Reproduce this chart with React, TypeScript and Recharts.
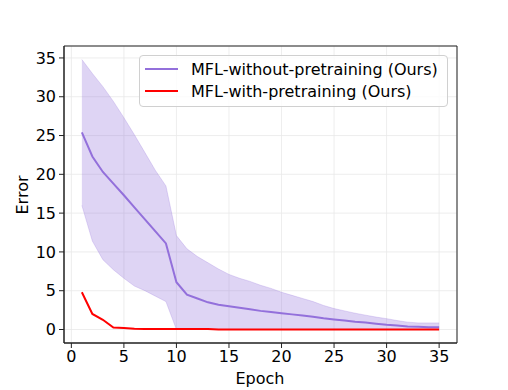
import React from 'react';
import { ComposedChart, Area, Line, XAxis, YAxis, CartesianGrid, ReferenceArea } from 'recharts';

const epochs = [1,2,3,4,5,6,7,8,9,10,11,12,13,14,15,16,17,18,19,20,21,22,23,24,25,26,27,28,29,30,31,32,33,34,35];
const meanNoPre = [25.4,22.3,20.3,18.8,17.3,15.75,14.2,12.65,11.1,6.1,4.5,4.0,3.5,3.2,3.0,2.8,2.6,2.4,2.25,2.1,1.95,1.8,1.65,1.45,1.3,1.15,1.0,0.9,0.75,0.6,0.5,0.4,0.35,0.3,0.3];
const upperNoPre = [34.8,33.0,31.3,29.4,27.3,25.1,22.8,20.5,18.5,12.1,10.4,9.4,8.6,7.8,7.1,6.6,6.2,5.7,5.3,4.8,4.4,4.0,3.6,3.1,2.7,2.4,2.1,1.85,1.6,1.4,1.15,0.95,0.85,0.85,0.85];
const lowerNoPre = [16.0,11.4,9.0,7.7,6.6,5.6,5.0,4.3,3.6,0,0,0,0,0,0,0,0,0,0,0,0,0,0,0,0,0,0,0,0,0,0,0,0,0,0];
const withPre = [4.8,2.0,1.25,0.25,0.2,0.1,0.05,0.05,0.05,0.05,0.05,0.05,0.05,0,0,0,0,0,0,0,0,0,0,0,0,0,0,0,0,0,0,0,0,0,0];
const xTicks = [0,5,10,15,20,25,30,35];
const yTicks = [0,5,10,15,20,25,30,35];
const seriesNames = ['MFL-without-pretraining (Ours)', 'MFL-with-pretraining (Ours)'];

const data = epochs.map((e, i) => ({
  epoch: e,
  mean: meanNoPre[i],
  band: [lowerNoPre[i], upperNoPre[i]],
  withPre: withPre[i],
}));

const FONT = '"DejaVu Sans", sans-serif';
const PURPLE = '#9370DB';
const RED = '#ff0000';

export default function App() {
  return (
    <div style={{ position: 'absolute', left: 0, top: 0, width: 508, height: 390, background: '#fff', fontFamily: FONT }}>
      <ComposedChart width={508} height={390} data={data} margin={{ top: 46, right: 51, bottom: 17, left: 0 }}>
        <CartesianGrid stroke="#e8e8e8" strokeWidth={0.8} />
        <XAxis
          type="number"
          dataKey="epoch"
          domain={[-0.7, 36.7]}
          ticks={xTicks}
          allowDataOverflow
          height={30}
          tickSize={5}
          tickMargin={3}
          stroke="#222"
          tick={{ fill: '#000', fontSize: 16, fontFamily: FONT }}
        />
        <YAxis
          type="number"
          domain={[-1.74, 36.54]}
          ticks={yTicks}
          allowDataOverflow
          width={64}
          tickSize={5}
          tickMargin={3}
          stroke="#222"
          tick={{ fill: '#000', fontSize: 16, fontFamily: FONT }}
        />
        <Area
          type="linear"
          dataKey="band"
          fill={PURPLE}
          fillOpacity={0.3}
          stroke={PURPLE}
          strokeOpacity={0.25}
          strokeWidth={1}
          isAnimationActive={false}
          dot={false}
          activeDot={false}
        />
        <Line type="linear" dataKey="mean" stroke={PURPLE} strokeWidth={2} dot={false} isAnimationActive={false} />
        <Line type="linear" dataKey="withPre" stroke={RED} strokeWidth={2} dot={false} isAnimationActive={false} />
        <ReferenceArea x1={-0.7} x2={36.7} y1={-1.74} y2={36.54} fill="none" stroke="#222" strokeWidth={1} ifOverflow="visible" />
      </ComposedChart>
      <div style={{ position: 'absolute', left: 139, top: 55, width: 307, height: 50, border: '1px solid #d0d0d0', borderRadius: 4, background: 'rgba(255,255,255,0.8)', boxSizing: 'content-box' }}>
        {seriesNames.map((name, i) => (
          <div key={name} style={{ position: 'absolute', left: 5, top: i === 0 ? 3 : 25, height: 20, display: 'flex', alignItems: 'center', whiteSpace: 'nowrap' }}>
            <span style={{ display: 'inline-block', width: 33, height: 0, borderTop: `2px solid ${i === 0 ? PURPLE : RED}`, marginRight: 13 }} />
            <span style={{ fontSize: 16, color: '#000' }}>{name}</span>
          </div>
        ))}
      </div>
      <div style={{ position: 'absolute', left: 260, top: 378, fontSize: 16, transform: 'translate(-50%, -50%)', whiteSpace: 'nowrap' }}>Epoch</div>
      <div style={{ position: 'absolute', left: 22, top: 195, fontSize: 16, transform: 'translate(-50%, -50%) rotate(-90deg)', whiteSpace: 'nowrap' }}>Error</div>
    </div>
  );
}
